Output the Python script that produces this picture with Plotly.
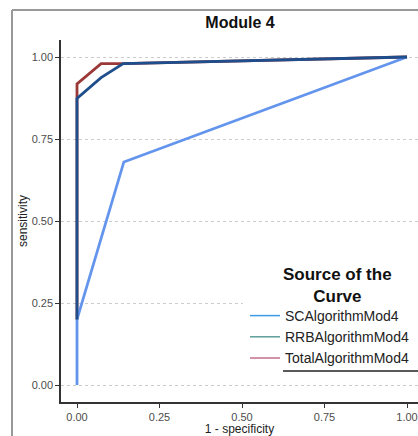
import plotly.graph_objects as go

# ROC curve data (1 - specificity, sensitivity)
sc_fpr = [0.0, 0.0, 0.142, 1.0]
sc_tpr = [0.0, 0.2, 0.68, 1.0]

rrb_fpr = [0.0, 0.0, 0.073, 0.14, 1.0]
rrb_tpr = [0.2, 0.874, 0.937, 0.98, 1.0]

total_fpr = [0.0, 0.0, 0.073, 0.14, 1.0]
total_tpr = [0.2, 0.918, 0.98, 0.98, 1.0]

series_names = ["SCAlgorithmMod4", "RRBAlgorithmMod4", "TotalAlgorithmMod4"]
line_colors = ["#6495ED", "#1F4E8C", "#9B3838"]
legend_colors = ["#3E9BE6", "#5E9E98", "#C56E8C"]

x_ticks = [0.0, 0.25, 0.5, 0.75, 1.0]
x_tick_labels = ["0.00", "0.25", "0.50", "0.75", "1.00"]
y_ticks = [0.0, 0.25, 0.5, 0.75, 1.0]
y_tick_labels = ["0.00", "0.25", "0.50", "0.75", "1.00"]

fig = go.Figure()

# curves (drawing order: Total, SC, RRB)
fig.add_trace(go.Scatter(x=total_fpr, y=total_tpr, mode="lines",
                         line=dict(color=line_colors[2], width=2.8),
                         showlegend=False, hoverinfo="skip"))
fig.add_trace(go.Scatter(x=sc_fpr, y=sc_tpr, mode="lines",
                         line=dict(color=line_colors[0], width=2.8),
                         showlegend=False, hoverinfo="skip"))
fig.add_trace(go.Scatter(x=rrb_fpr, y=rrb_tpr, mode="lines",
                         line=dict(color=line_colors[1], width=2.8),
                         showlegend=False, hoverinfo="skip"))

# legend entries
for name, col in zip(series_names, legend_colors):
    fig.add_trace(go.Scatter(x=[None], y=[None], mode="lines", name=name,
                             line=dict(color=col, width=1.5)))

W, H = 418, 436
L, R, T, B = 61, 0, 40, 34
pw = W - L - R
ph = H - T - B


def px_x(px):
    return (px - L) / pw


def px_y(py):
    return (H - B - py) / ph


fig.update_layout(
    width=W, height=H,
    margin=dict(l=L, r=R, t=T, b=B, autoexpand=False),
    paper_bgcolor="white",
    plot_bgcolor="white",
    font=dict(family="Liberation Sans, Arial, sans-serif", color="#333333"),
    title=dict(text="<b>Module 4</b>", x=px_x(240), xref="paper", xanchor="center",
               y=1 - 22 / H, yanchor="middle",
               font=dict(size=16, color="#111111")),
    xaxis=dict(
        range=[-0.0485, (W - 77) / 330],
        tickvals=x_ticks, ticktext=x_tick_labels,
        showgrid=False, zeroline=False,
        showline=True, linecolor="#333333", linewidth=1.5,
        ticks="outside", ticklen=4, tickcolor="#333333", tickwidth=1,
        tickfont=dict(size=11, color="#4d4d4d"),
        title=dict(text="1 - specificity", font=dict(size=12, color="#222222"), standoff=2),
        automargin=False,
        fixedrange=True,
    ),
    yaxis=dict(
        range=[-(402 - 385) / 328, 1 + (57 - 40) / 328],
        tickvals=y_ticks, ticktext=y_tick_labels,
        showgrid=True, gridcolor="#cccccc", griddash="dot", gridwidth=1,
        zeroline=False,
        showline=True, linecolor="#333333", linewidth=1.5,
        ticks="outside", ticklen=4, tickcolor="#333333", tickwidth=1,
        tickfont=dict(size=11, color="#4d4d4d"),
        title=dict(text="sensitivity", font=dict(size=12, color="#222222"), standoff=1),
        automargin=False,
        fixedrange=True,
    ),
    legend=dict(
        x=px_x(245), y=px_y(300), xanchor="left", yanchor="top",
        bgcolor="rgba(0,0,0,0)",
        font=dict(size=14, color="#222222"),
        tracegroupgap=0, itemwidth=30,
    ),
    annotations=[
        dict(text="<b>Source of the<br>Curve</b>", xref="paper", yref="paper",
             x=px_x(337), y=px_y(285), xanchor="center", yanchor="middle",
             showarrow=False, align="center",
             font=dict(size=17, color="#111111")),
    ],
    shapes=[
        # legend background
        dict(type="rect", xref="paper", yref="paper", layer="above",
             x0=px_x(243), x1=1.0, y0=px_y(368), y1=px_y(262),
             fillcolor="white", line=dict(width=0)),
        # outer grey frame
        dict(type="line", xref="paper", yref="paper",
             x0=px_x(12), x1=px_x(12), y0=px_y(10), y1=px_y(440),
             line=dict(color="#999999", width=2)),
        dict(type="line", xref="paper", yref="paper",
             x0=px_x(12), x1=px_x(430), y0=px_y(10), y1=px_y(10),
             line=dict(color="#999999", width=2)),
        # legend underline
        dict(type="line", xref="paper", yref="paper",
             x0=px_x(283), x1=1.0, y0=px_y(371), y1=px_y(371),
             line=dict(color="#222222", width=1.5)),
    ],
)

fig.write_html("out.html", config={"displayModeBar": False},
               post_script="document.body.style.margin='0';")
